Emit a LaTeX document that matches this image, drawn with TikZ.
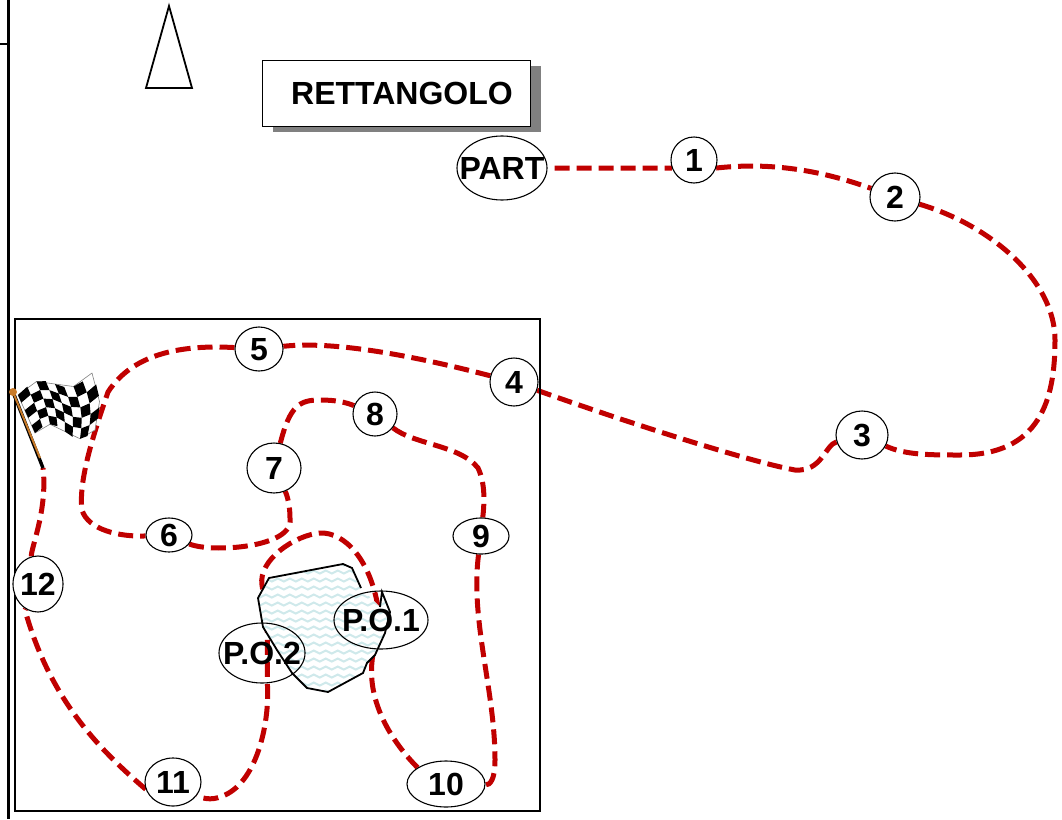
\documentclass[tikz,border=0pt]{standalone}
\usepackage{fontspec}
\usepackage{xcolor}
\setmainfont{Liberation Sans}
\usetikzlibrary{shapes.geometric,decorations.pathmorphing,backgrounds}
\definecolor{routered}{HTML}{C00000}
\definecolor{wavecol}{HTML}{CFE9EB}
\definecolor{shadowgray}{HTML}{808080}
\definecolor{polecol}{HTML}{C87A28}
\newcommand{\lbl}[1]{\makebox[0pt]{\smash{\raisebox{-.36em}{#1}}}}

\begin{document}
\begin{tikzpicture}[x=1pt, y=-1pt,
    every node/.style={font=\fontsize{32}{32}\selectfont\bfseries, inner sep=0pt},
    stop/.style={ellipse, draw, line width=1.1pt, fill=white},
    po/.style={ellipse, draw, line width=1.1pt},
    route/.style={draw=routered, line width=5pt, dash pattern=on 15pt off 7pt},
    declare function={
        flagx(\u,\v)=18+74*\u+17*\v-14*\u*\v+6*\u*sin(180*\v);
        flagy(\u,\v)=395-22*\u+38*\v+19*\u*\v-8*sin(360*\u);
    }]
    \useasboundingbox (0,0) rectangle (1062,819);

    % frame lines
    \draw[line width=3pt] (8,0) -- (8,819);
    \draw[line width=2pt] (0,44) -- (8,44);
    \draw[line width=1.8pt] (15,319) rectangle (540,811);
    \draw[line width=1.8pt] (169,6) -- (146,88) -- (192,88) -- cycle;

    % title
    \node[fill=shadowgray, minimum width=268pt, minimum height=66pt] at (407,98.5) {};
    \node[draw, fill=white, line width=.9pt, minimum width=268pt, minimum height=66pt] (title) at (396,93) {\lbl{\hspace{12pt}RETTANGOLO}};

    % stops
    \node[stop, minimum width=90pt, minimum height=64pt] (part) at (502,168) {\lbl{PART}};
    \node[stop, minimum width=46pt, minimum height=46pt] (n1) at (694,160) {\lbl{1}};
    \node[stop, minimum width=50pt, minimum height=48pt] (n2) at (895,197) {\lbl{2}};
    \node[stop, minimum width=52pt, minimum height=48pt] (n3) at (862,435) {\lbl{3}};
    \node[stop, minimum width=48pt, minimum height=48pt] (n4) at (514,382) {\lbl{4}};
    \node[stop, minimum width=48pt, minimum height=44pt] (n5) at (259,349) {\lbl{5}};
    \node[stop, minimum width=46pt, minimum height=34pt] (n6) at (169,535) {\lbl{6}};
    \node[stop, minimum width=54pt, minimum height=50pt] (n7) at (274,468) {\lbl{7}};
    \node[stop, minimum width=44pt, minimum height=44pt] (n8) at (375,414) {\lbl{8}};
    \node[stop, minimum width=56pt, minimum height=36pt] (n9) at (481,536) {\lbl{9}};
    \node[stop, minimum width=78pt, minimum height=46pt] (n10) at (446,784) {\lbl{10}};
    \node[stop, minimum width=56pt, minimum height=48pt] (n11) at (173,782) {\lbl{11}};
    \node[stop, minimum width=50pt, minimum height=56pt] (n12) at (38,584) {\lbl{12}};
    \node[po, minimum width=94pt, minimum height=58pt] (po1) at (381,620) {\lbl{P.O.1}};
    \node[po, minimum width=86pt, minimum height=60pt] (po2) at (262,653) {\lbl{P.O.2}};
    \coordinate (poin) at (378,607);
    \coordinate (flagfoot) at (43,468);

    \begin{scope}[on background layer]
        % the route
        \draw[route, shorten <=7pt] (part.east) -- (n1.200);
        \draw[route] (n1.-20) .. controls (770,162) and (820,170) .. (n2);
        \draw[route] (n2) .. controls (990,225) and (1055,280) .. (1055,340)
            .. controls (1055,400) and (1040,455) .. (960,455)
            .. controls (930,455) and (905,455) .. (n3);
        \draw[route] (n3) .. controls (825,445) and (822,472) .. (795,470)
            .. controls (750,462) and (620,420) .. (n4);
        \draw[route] (n4) .. controls (430,360) and (340,340) .. (n5);
        \draw[route] (n5) .. controls (190,345) and (135,350) .. (108,392)
            .. controls (95,430) and (78,480) .. (82,510)
            .. controls (88,530) and (120,537) .. (n6);
        \draw[route] (n6) .. controls (210,553) and (295,548) .. (290,518)
            .. controls (290,505) and (287,495) .. (n7);
        \draw[route] (n7) .. controls (290,405) and (300,400) .. (320,400)
            .. controls (335,400) and (345,402) .. (n8);
        \draw[route] (n8) .. controls (415,445) and (460,445) .. (478,468)
            .. controls (486,485) and (484,505) .. (n9);
        \draw[route] (n9) .. controls (470,620) and (495,690) .. (495,760)
            .. controls (495,780) and (490,785) .. (n10);
        \draw[route] (n10.150) .. controls (395,745) and (362,700) .. (po1);
        \draw[route] (poin) .. controls (370,560) and (345,532) .. (320,533)
            .. controls (295,535) and (258,560) .. (262,585)
            .. controls (264,600) and (267,610) .. (po2.80)
            -- (po2.-80)
            .. controls (270,720) and (258,780) .. (225,795)
            .. controls (215,800) and (205,800) .. (n11);
        \draw[route] (n11.195) .. controls (100,750) and (50,700) .. (25,610) -- (n12);
        \draw[route] (n12) .. controls (30,550) and (48,510) .. (flagfoot);

        % pond over the route
        \fill[white] (269,578) -- (343,564) -- (352,568) -- (361,588) -- (380,607) -- (382,592)
            -- (390,612) -- (385,633) -- (375,655) -- (367,663) -- (363,673) -- (328,692)
            -- (307,688) -- (292,673) -- (277,650) -- (263,627) -- (258,598) -- cycle;
        \begin{scope}
            \clip (269,578) -- (343,564) -- (352,568) -- (361,588) -- (380,607) -- (382,592)
                -- (390,612) -- (385,633) -- (375,655) -- (367,663) -- (363,673) -- (328,692)
                -- (307,688) -- (292,673) -- (277,650) -- (263,627) -- (258,598) -- cycle;
            \foreach \r in {564,572,...,700}
                \draw[wavecol, line width=2pt, decorate, decoration={snake, segment length=12pt, amplitude=1.5pt}] (250,\r) -- (400,\r);
        \end{scope}
        \draw[line width=1.8pt] (361,588) -- (352,568) -- (343,564) -- (269,578) -- (258,598)
            -- (263,627) -- (277,650) -- (292,673) -- (307,688) -- (328,692) -- (363,673)
            -- (367,663) -- (375,655) -- (385,633) -- (390,612) -- (382,592) -- (380,607);
    \end{scope}

    % flag
    \filldraw[fill=white, draw=black!50, line width=.6pt]
        ({flagx(0,0)},{flagy(0,0)}) -- ({flagx(.25,0)},{flagy(.25,0)}) -- ({flagx(.5,0)},{flagy(.5,0)})
        -- ({flagx(.75,0)},{flagy(.75,0)}) -- ({flagx(1,0)},{flagy(1,0)}) -- ({flagx(1,.5)},{flagy(1,.5)})
        -- ({flagx(1,1)},{flagy(1,1)})
        -- ({flagx(.75,1)},{flagy(.75,1)}) -- ({flagx(.5,1)},{flagy(.5,1)}) -- ({flagx(.25,1)},{flagy(.25,1)})
        -- ({flagx(0,1)},{flagy(0,1)}) -- cycle;
    \foreach \i in {0,...,7}
        \foreach \j in {0,...,4} {
            \pgfmathparse{int(mod(\i+\j,2))}
            \ifnum\pgfmathresult=0
                \fill ({flagx(\i/8,\j/5)},{flagy(\i/8,\j/5)})
                    -- ({flagx((\i+1)/8,\j/5)},{flagy((\i+1)/8,\j/5)})
                    -- ({flagx((\i+1)/8,(\j+1)/5)},{flagy((\i+1)/8,(\j+1)/5)})
                    -- ({flagx(\i/8,(\j+1)/5)},{flagy(\i/8,(\j+1)/5)}) -- cycle;
            \fi
        }
    \draw[line width=3.4pt] (13,392) -- (flagfoot);
    \draw[polecol, line width=2pt] (13,392) -- (40,458);
    \fill[polecol] (13,392) circle (4pt);
\end{tikzpicture}
\end{document}
